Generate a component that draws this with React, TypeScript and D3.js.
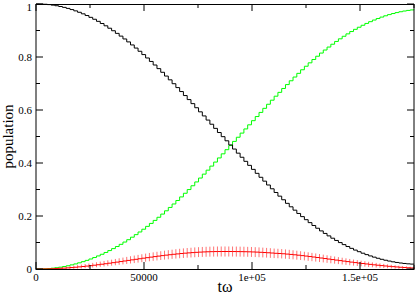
import React from 'react';
import * as d3 from 'd3';

// time step between samples (t·ω units)
const T_STEP = 1750;

const blackPop = [
  1.0000, 0.9997, 0.9990, 0.9977, 0.9958, 0.9935, 0.9906, 0.9873, 0.9834, 0.9790,
  0.9741, 0.9687, 0.9629, 0.9565, 0.9497, 0.9424, 0.9346, 0.9264, 0.9177, 0.9086,
  0.8991, 0.8892, 0.8788, 0.8681, 0.8570, 0.8455, 0.8337, 0.8216, 0.8091, 0.7963,
  0.7832, 0.7698, 0.7561, 0.7423, 0.7281, 0.7138, 0.6992, 0.6845, 0.6696, 0.6545,
  0.6393, 0.6240, 0.6086, 0.5931, 0.5776, 0.5620, 0.5463, 0.5307, 0.5150, 0.4994,
  0.4838, 0.4682, 0.4526, 0.4371, 0.4217, 0.4063, 0.3911, 0.3760, 0.3610, 0.3461,
  0.3315, 0.3170, 0.3027, 0.2887, 0.2749, 0.2613, 0.2478, 0.2347, 0.2220, 0.2096,
  0.1977, 0.1861, 0.1750, 0.1642, 0.1538, 0.1438, 0.1342, 0.1250, 0.1162, 0.1077,
  0.0997, 0.0920, 0.0848, 0.0779, 0.0714, 0.0653, 0.0596, 0.0543, 0.0493, 0.0447,
  0.0405, 0.0366, 0.0331, 0.0299, 0.0271, 0.0247, 0.0226, 0.0209, 0.0195, 0.0185,
  0.0179,
];

const greenPop = [
  0.0000, 0.0002, 0.0007, 0.0017, 0.0031, 0.0048, 0.0069, 0.0094, 0.0123, 0.0156,
  0.0192, 0.0233, 0.0277, 0.0325, 0.0377, 0.0433, 0.0493, 0.0556, 0.0624, 0.0695,
  0.0770, 0.0848, 0.0931, 0.1017, 0.1106, 0.1200, 0.1297, 0.1397, 0.1501, 0.1609,
  0.1720, 0.1834, 0.1952, 0.2072, 0.2196, 0.2323, 0.2453, 0.2585, 0.2720, 0.2858,
  0.2998, 0.3141, 0.3285, 0.3432, 0.3580, 0.3730, 0.3883, 0.4035, 0.4191, 0.4346,
  0.4502, 0.4658, 0.4815, 0.4972, 0.5128, 0.5285, 0.5441, 0.5597, 0.5753, 0.5909,
  0.6063, 0.6217, 0.6370, 0.6521, 0.6666, 0.6812, 0.6959, 0.7103, 0.7244, 0.7383,
  0.7518, 0.7651, 0.7780, 0.7906, 0.8029, 0.8148, 0.8263, 0.8375, 0.8482, 0.8587,
  0.8686, 0.8782, 0.8873, 0.8961, 0.9044, 0.9123, 0.9197, 0.9267, 0.9333, 0.9395,
  0.9452, 0.9506, 0.9555, 0.9600, 0.9640, 0.9676, 0.9708, 0.9735, 0.9758, 0.9776,
  0.9789,
];

const redPop = [
  0.0000, 0.0001, 0.0003, 0.0006, 0.0011, 0.0017, 0.0025, 0.0033, 0.0043, 0.0054,
  0.0067, 0.0080, 0.0094, 0.0110, 0.0126, 0.0143, 0.0161, 0.0180, 0.0199, 0.0219,
  0.0239, 0.0260, 0.0281, 0.0302, 0.0324, 0.0345, 0.0366, 0.0387, 0.0408, 0.0428,
  0.0448, 0.0468, 0.0487, 0.0505, 0.0523, 0.0539, 0.0555, 0.0570, 0.0584, 0.0597,
  0.0609, 0.0619, 0.0629, 0.0637, 0.0644, 0.0650, 0.0654, 0.0658, 0.0659, 0.0660,
  0.0660, 0.0660, 0.0659, 0.0657, 0.0655, 0.0652, 0.0648, 0.0643, 0.0637, 0.0630,
  0.0622, 0.0613, 0.0603, 0.0592, 0.0585, 0.0575, 0.0563, 0.0550, 0.0536, 0.0521,
  0.0505, 0.0488, 0.0470, 0.0452, 0.0433, 0.0414, 0.0395, 0.0375, 0.0356, 0.0336,
  0.0317, 0.0298, 0.0279, 0.0260, 0.0242, 0.0224, 0.0207, 0.0190, 0.0174, 0.0158,
  0.0143, 0.0128, 0.0114, 0.0101, 0.0089, 0.0077, 0.0066, 0.0056, 0.0047, 0.0039,
  0.0032,
];

const redErr = [
  0.0000, 0.0007, 0.0013, 0.0018, 0.0025, 0.0031, 0.0037, 0.0043, 0.0049, 0.0054,
  0.0061, 0.0066, 0.0072, 0.0078, 0.0083, 0.0088, 0.0094, 0.0099, 0.0104, 0.0110,
  0.0114, 0.0119, 0.0124, 0.0129, 0.0133, 0.0137, 0.0142, 0.0146, 0.0149, 0.0153,
  0.0157, 0.0160, 0.0163, 0.0166, 0.0169, 0.0172, 0.0174, 0.0177, 0.0179, 0.0181,
  0.0183, 0.0184, 0.0186, 0.0187, 0.0188, 0.0189, 0.0189, 0.0190, 0.0190, 0.0190,
  0.0190, 0.0190, 0.0190, 0.0190, 0.0189, 0.0189, 0.0188, 0.0188, 0.0187, 0.0186,
  0.0185, 0.0183, 0.0182, 0.0180, 0.0179, 0.0177, 0.0176, 0.0174, 0.0171, 0.0169,
  0.0166, 0.0163, 0.0160, 0.0157, 0.0154, 0.0151, 0.0147, 0.0143, 0.0140, 0.0136,
  0.0132, 0.0128, 0.0124, 0.0119, 0.0115, 0.0111, 0.0106, 0.0102, 0.0098, 0.0093,
  0.0088, 0.0084, 0.0079, 0.0074, 0.0070, 0.0065, 0.0060, 0.0055, 0.0051, 0.0046,
  0.0042,
];

const xDomain = [0, 175000];
const xTicks = [0, 50000, 100000, 150000];
const xTickLabels = ['0', '50000', '1e+05', '1.5e+05'];
const xMinorTicks = [25000, 75000, 125000, 175000];
const yTicks = [0, 0.2, 0.4, 0.6, 0.8, 1];
const yTickLabels = ['0', '0.2', '0.4', '0.6', '0.8', '1'];
const yMinorTicks = [0.1, 0.3, 0.5, 0.7, 0.9];

export default function App() {
  const W = 415;
  const H = 296;
  const L = 36, R = 414, T = 4, B = 269;
  const x = d3.scaleLinear().domain(xDomain).range([L, R]);
  const y = d3.scaleLinear().domain([0, 1]).range([B, T]);
  const times = blackPop.map((_, i) => i * T_STEP);
  const line = d3
    .line<number>()
    .x((_, i) => x(times[i]))
    .y((d) => y(d))
    .curve(d3.curveStepAfter);

  const font = '"Liberation Serif", "Times New Roman", serif';
  const majorLen = 7;
  const minorLen = 4;

  return (
    <svg
      width={W}
      height={H}
      style={{ position: 'absolute', left: 0, top: 0, background: '#fff' }}
      fontFamily={font}
    >
      <rect x={0} y={0} width={W} height={H} fill="#fff" />
      <defs>
        <clipPath id="clip">
          <rect x={L} y={T - 1} width={R - L + 1} height={B - T + 2} />
        </clipPath>
      </defs>
      <g clipPath="url(#clip)">
        <path d={line(greenPop) || ''} fill="none" stroke="#00ff00" strokeWidth={1} />
        <path d={line(blackPop) || ''} fill="none" stroke="#000" strokeWidth={1} />
        {redPop.map((r, i) => (
          <line
            key={i}
            x1={x(times[i])}
            x2={x(times[i])}
            y1={y(r - redErr[i])}
            y2={y(r + redErr[i])}
            stroke="#ff0000"
            strokeOpacity={0.55}
            strokeWidth={1}
          />
        ))}
        <path d={line(redPop) || ''} fill="none" stroke="#ff0000" strokeWidth={1} />
      </g>

      {/* frame */}
      <rect x={L} y={T + 0.5} width={R - L} height={B - T} fill="none" stroke="#000" strokeWidth={1} />

      {/* x ticks */}
      {xTicks.map((t) => (
        <g key={'xt' + t}>
          <line x1={x(t)} x2={x(t)} y1={B} y2={B - majorLen} stroke="#000" />
          <line x1={x(t)} x2={x(t)} y1={T} y2={T + majorLen} stroke="#000" />
        </g>
      ))}
      {xMinorTicks.map((t) => (
        <g key={'xm' + t}>
          <line x1={x(t)} x2={x(t)} y1={B} y2={B - minorLen} stroke="#000" />
          <line x1={x(t)} x2={x(t)} y1={T} y2={T + minorLen} stroke="#000" />
        </g>
      ))}
      {xTicks.map((t, i) => (
        <text key={'xl' + t} x={x(t)} y={281} fontSize={11} textAnchor="middle" fill="#000">
          {xTickLabels[i]}
        </text>
      ))}

      {/* y ticks */}
      {yTicks.map((v) => (
        <g key={'yt' + v}>
          <line x1={L} x2={L + majorLen} y1={y(v)} y2={y(v)} stroke="#000" />
          <line x1={R} x2={R - majorLen} y1={y(v)} y2={y(v)} stroke="#000" />
        </g>
      ))}
      {yMinorTicks.map((v) => (
        <g key={'ym' + v}>
          <line x1={L} x2={L + minorLen} y1={y(v)} y2={y(v)} stroke="#000" />
          <line x1={R} x2={R - minorLen} y1={y(v)} y2={y(v)} stroke="#000" />
        </g>
      ))}
      {yTicks.map((v, i) => (
        <text
          key={'yl' + v}
          x={32}
          y={Math.max(y(v), 7)}
          dy="0.35em"
          fontSize={11}
          textAnchor="end"
          fill="#000"
        >
          {yTickLabels[i]}
        </text>
      ))}

      {/* axis titles */}
      <text x={225} y={292} fontSize={16} textAnchor="middle" fill="#000">
        tω
      </text>
      <text
        x={0}
        y={0}
        transform={`translate(13, ${(T + B) / 2}) rotate(-90)`}
        fontSize={15}
        textAnchor="middle"
        fill="#000"
      >
        population
      </text>
    </svg>
  );
}
